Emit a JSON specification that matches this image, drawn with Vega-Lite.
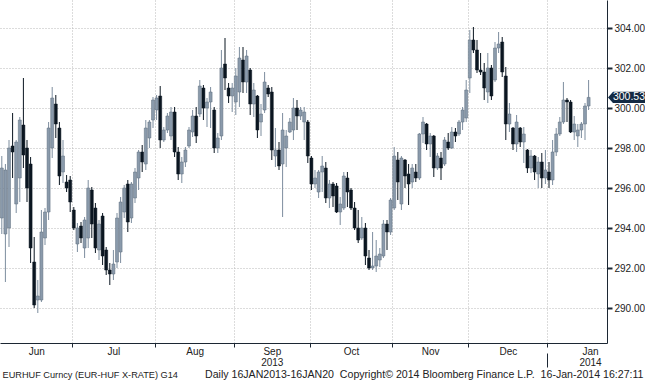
{
  "$schema": "https://vega.github.io/schema/vega-lite/v6.json",
  "width": 607,
  "height": 343,
  "autosize": {"type": "none"},
  "padding": {"left": 0, "top": 0, "right": 38, "bottom": 37},
  "background": "white",
  "config": {"view": {"stroke": null}},
  "data": {"values": [
    {"i":0,"o":294.5,"h":297.6,"l":293.7,"c":297.0},
    {"i":1,"o":293.7,"h":297.2,"l":291.3,"c":296.9},
    {"i":2,"o":294.0,"h":298.4,"l":293.05,"c":298.0},
    {"i":3,"o":298.1,"h":299.75,"l":296.5,"c":297.8},
    {"i":4,"o":295.2,"h":298.4,"l":294.75,"c":298.3},
    {"i":5,"o":296.5,"h":299.55,"l":295.3,"c":299.4},
    {"i":6,"o":299.15,"h":301.5,"l":297.0,"c":297.65},
    {"i":7,"o":298.0,"h":298.4,"l":295.3,"c":296.0},
    {"i":8,"o":297.2,"h":297.55,"l":292.25,"c":293.0},
    {"i":9,"o":292.3,"h":293.55,"l":290.0,"c":290.15},
    {"i":10,"o":290.4,"h":291.4,"l":289.75,"c":290.6},
    {"i":11,"o":290.4,"h":294.9,"l":290.3,"c":293.8},
    {"i":12,"o":293.5,"h":295.0,"l":293.15,"c":294.8},
    {"i":13,"o":294.8,"h":299.3,"l":294.4,"c":299.0},
    {"i":14,"o":298.0,"h":301.05,"l":297.5,"c":300.5},
    {"i":15,"o":300.2,"h":300.65,"l":298.5,"c":299.2},
    {"i":16,"o":299.0,"h":299.3,"l":296.15,"c":296.6},
    {"i":17,"o":296.8,"h":298.4,"l":296.25,"c":297.6},
    {"i":18,"o":296.3,"h":296.65,"l":295.8,"c":296.0},
    {"i":19,"o":296.4,"h":296.6,"l":294.8,"c":295.3},
    {"i":20,"o":294.9,"h":295.05,"l":293.9,"c":294.0},
    {"i":21,"o":293.2,"h":294.25,"l":292.8,"c":294.0},
    {"i":22,"o":294.1,"h":294.3,"l":293.25,"c":293.5},
    {"i":23,"o":293.0,"h":294.55,"l":292.5,"c":294.4},
    {"i":24,"o":293.5,"h":296.4,"l":293.0,"c":296.0},
    {"i":25,"o":295.9,"h":296.05,"l":293.5,"c":294.2},
    {"i":26,"o":295.0,"h":295.25,"l":292.75,"c":293.0},
    {"i":27,"o":292.9,"h":294.4,"l":292.4,"c":294.2},
    {"i":28,"o":294.6,"h":294.75,"l":292.15,"c":292.6},
    {"i":29,"o":292.9,"h":293.05,"l":291.65,"c":291.9},
    {"i":30,"o":291.9,"h":292.25,"l":291.15,"c":291.7},
    {"i":31,"o":291.7,"h":292.9,"l":291.4,"c":292.2},
    {"i":32,"o":292.3,"h":294.75,"l":292.0,"c":294.5},
    {"i":33,"o":292.8,"h":295.55,"l":292.25,"c":295.3},
    {"i":34,"o":294.8,"h":296.15,"l":294.5,"c":296.0},
    {"i":35,"o":296.2,"h":296.4,"l":293.8,"c":294.3},
    {"i":36,"o":294.5,"h":296.3,"l":294.25,"c":296.2},
    {"i":37,"o":295.5,"h":297.0,"l":295.25,"c":296.8},
    {"i":38,"o":296.5,"h":297.9,"l":295.9,"c":297.8},
    {"i":39,"o":297.8,"h":298.15,"l":296.8,"c":297.3},
    {"i":40,"o":297.2,"h":299.4,"l":296.9,"c":299.0},
    {"i":41,"o":298.5,"h":299.4,"l":298.0,"c":299.3},
    {"i":42,"o":299.4,"h":300.55,"l":299.0,"c":300.4},
    {"i":43,"o":299.9,"h":300.65,"l":299.4,"c":300.5},
    {"i":44,"o":300.6,"h":301.1,"l":298.0,"c":298.4},
    {"i":45,"o":298.4,"h":299.05,"l":298.3,"c":298.9},
    {"i":46,"o":298.9,"h":299.75,"l":298.75,"c":299.6},
    {"i":47,"o":298.6,"h":300.05,"l":298.4,"c":299.8},
    {"i":48,"o":299.8,"h":300.05,"l":297.55,"c":297.8},
    {"i":49,"o":297.8,"h":298.05,"l":296.4,"c":296.7},
    {"i":50,"o":296.7,"h":297.55,"l":296.25,"c":297.3},
    {"i":51,"o":297.3,"h":298.05,"l":297.05,"c":297.9},
    {"i":52,"o":298.1,"h":299.05,"l":298.0,"c":298.9},
    {"i":53,"o":298.8,"h":299.9,"l":298.55,"c":299.6},
    {"i":54,"o":299.6,"h":300.05,"l":298.25,"c":298.6},
    {"i":55,"o":299.7,"h":301.4,"l":299.55,"c":301.1},
    {"i":56,"o":301.0,"h":301.15,"l":299.4,"c":300.0},
    {"i":57,"o":300.0,"h":300.5,"l":299.05,"c":300.3},
    {"i":58,"o":300.3,"h":301.05,"l":299.0,"c":300.8},
    {"i":59,"o":299.9,"h":300.05,"l":297.75,"c":298.0},
    {"i":60,"o":298.0,"h":298.75,"l":297.75,"c":298.5},
    {"i":61,"o":298.6,"h":302.9,"l":298.4,"c":302.0},
    {"i":62,"o":302.2,"h":303.5,"l":300.9,"c":301.5},
    {"i":63,"o":301.0,"h":301.25,"l":300.25,"c":300.6},
    {"i":64,"o":300.6,"h":301.25,"l":299.8,"c":301.0},
    {"i":65,"o":300.3,"h":302.0,"l":299.65,"c":301.6},
    {"i":66,"o":300.8,"h":303.05,"l":300.05,"c":302.5},
    {"i":67,"o":302.4,"h":303.05,"l":300.75,"c":301.3},
    {"i":68,"o":301.3,"h":302.9,"l":300.75,"c":302.6},
    {"i":69,"o":301.9,"h":302.0,"l":299.65,"c":300.2},
    {"i":70,"o":300.2,"h":301.25,"l":299.55,"c":300.9},
    {"i":71,"o":300.6,"h":300.65,"l":298.5,"c":298.9},
    {"i":72,"o":299.3,"h":300.2,"l":298.6,"c":299.7},
    {"i":73,"o":299.9,"h":301.8,"l":299.75,"c":301.3},
    {"i":74,"o":301.0,"h":301.15,"l":300.55,"c":300.7},
    {"i":75,"o":300.8,"h":301.05,"l":297.4,"c":297.9},
    {"i":76,"o":297.6,"h":299.0,"l":297.05,"c":297.9},
    {"i":77,"o":297.9,"h":298.3,"l":296.9,"c":297.1},
    {"i":78,"o":297.2,"h":299.75,"l":294.55,"c":298.9},
    {"i":79,"o":298.0,"h":298.9,"l":297.05,"c":298.6},
    {"i":80,"o":298.8,"h":299.5,"l":298.75,"c":299.3},
    {"i":81,"o":298.9,"h":300.5,"l":298.4,"c":300.0},
    {"i":82,"o":300.0,"h":300.4,"l":298.9,"c":299.6},
    {"i":83,"o":299.6,"h":300.05,"l":299.4,"c":299.9},
    {"i":84,"o":299.3,"h":300.05,"l":298.4,"c":299.8},
    {"i":85,"o":299.3,"h":299.4,"l":297.25,"c":297.6},
    {"i":86,"o":297.5,"h":297.6,"l":295.9,"c":296.2},
    {"i":87,"o":296.2,"h":296.9,"l":296.0,"c":296.5},
    {"i":88,"o":295.8,"h":296.9,"l":295.5,"c":296.8},
    {"i":89,"o":296.8,"h":297.6,"l":295.8,"c":297.1},
    {"i":90,"o":297.0,"h":297.3,"l":295.25,"c":295.5},
    {"i":91,"o":295.5,"h":296.4,"l":295.0,"c":296.2},
    {"i":92,"o":296.2,"h":296.3,"l":295.05,"c":295.6},
    {"i":93,"o":296.1,"h":296.25,"l":294.75,"c":294.8},
    {"i":94,"o":294.8,"h":295.55,"l":294.15,"c":295.2},
    {"i":95,"o":295.0,"h":296.8,"l":294.9,"c":296.6},
    {"i":96,"o":296.5,"h":296.8,"l":295.05,"c":295.8},
    {"i":97,"o":295.9,"h":296.0,"l":294.9,"c":295.0},
    {"i":98,"o":295.0,"h":295.3,"l":293.9,"c":294.0},
    {"i":99,"o":294.0,"h":294.9,"l":293.25,"c":293.4},
    {"i":100,"o":293.5,"h":294.55,"l":293.4,"c":294.0},
    {"i":101,"o":294.0,"h":294.25,"l":292.15,"c":292.6},
    {"i":102,"o":292.5,"h":292.9,"l":291.9,"c":292.0},
    {"i":103,"o":292.0,"h":293.8,"l":291.9,"c":292.1},
    {"i":104,"o":292.1,"h":293.4,"l":291.8,"c":292.6},
    {"i":105,"o":292.4,"h":293.0,"l":292.05,"c":292.7},
    {"i":106,"o":292.6,"h":294.4,"l":292.5,"c":294.2},
    {"i":107,"o":294.2,"h":294.4,"l":292.9,"c":293.8},
    {"i":108,"o":293.8,"h":295.5,"l":293.65,"c":295.4},
    {"i":109,"o":295.0,"h":298.05,"l":294.9,"c":297.6},
    {"i":110,"o":297.4,"h":297.8,"l":295.4,"c":296.3},
    {"i":111,"o":295.2,"h":297.6,"l":294.9,"c":297.5},
    {"i":112,"o":297.4,"h":297.45,"l":296.0,"c":296.6},
    {"i":113,"o":296.7,"h":297.2,"l":295.15,"c":296.2},
    {"i":114,"o":296.3,"h":297.2,"l":296.0,"c":297.0},
    {"i":115,"o":296.8,"h":297.2,"l":296.3,"c":296.5},
    {"i":116,"o":296.5,"h":298.75,"l":296.4,"c":298.7},
    {"i":117,"o":298.7,"h":299.55,"l":298.25,"c":299.3},
    {"i":118,"o":299.2,"h":299.25,"l":297.9,"c":298.2},
    {"i":119,"o":298.2,"h":298.75,"l":297.55,"c":298.6},
    {"i":120,"o":298.6,"h":298.65,"l":296.55,"c":297.0},
    {"i":121,"o":297.0,"h":297.75,"l":296.9,"c":297.6},
    {"i":122,"o":297.5,"h":297.8,"l":296.4,"c":297.0},
    {"i":123,"o":297.2,"h":298.55,"l":297.1,"c":298.4},
    {"i":124,"o":298.3,"h":298.75,"l":297.9,"c":298.0},
    {"i":125,"o":298.0,"h":299.05,"l":297.95,"c":298.8},
    {"i":126,"o":298.8,"h":299.0,"l":298.3,"c":298.6},
    {"i":127,"o":298.7,"h":299.4,"l":298.6,"c":299.3},
    {"i":128,"o":299.3,"h":300.05,"l":298.9,"c":299.9},
    {"i":129,"o":299.5,"h":301.4,"l":299.3,"c":300.9},
    {"i":130,"o":301.5,"h":303.9,"l":300.75,"c":303.4},
    {"i":131,"o":303.4,"h":304.05,"l":302.75,"c":302.9},
    {"i":132,"o":302.9,"h":303.4,"l":301.75,"c":301.9},
    {"i":133,"o":301.9,"h":302.75,"l":301.65,"c":301.8},
    {"i":134,"o":301.8,"h":302.25,"l":300.4,"c":301.0},
    {"i":135,"o":300.8,"h":302.75,"l":300.25,"c":302.0},
    {"i":136,"o":302.0,"h":302.15,"l":300.4,"c":300.6},
    {"i":137,"o":301.4,"h":303.3,"l":301.3,"c":303.0},
    {"i":138,"o":303.0,"h":303.8,"l":302.75,"c":303.2},
    {"i":139,"o":303.3,"h":303.55,"l":301.55,"c":301.8},
    {"i":140,"o":301.6,"h":302.05,"l":298.4,"c":299.2},
    {"i":141,"o":299.2,"h":300.25,"l":298.8,"c":299.7},
    {"i":142,"o":299.0,"h":299.05,"l":297.9,"c":298.2},
    {"i":143,"o":298.2,"h":299.65,"l":297.8,"c":299.3},
    {"i":144,"o":299.0,"h":299.05,"l":298.05,"c":298.3},
    {"i":145,"o":298.3,"h":299.05,"l":297.25,"c":298.7},
    {"i":146,"o":297.9,"h":297.95,"l":296.75,"c":297.0},
    {"i":147,"o":297.0,"h":297.9,"l":296.75,"c":297.6},
    {"i":148,"o":297.6,"h":297.65,"l":296.4,"c":296.8},
    {"i":149,"o":296.7,"h":297.55,"l":296.0,"c":297.3},
    {"i":150,"o":297.3,"h":297.75,"l":296.0,"c":296.5},
    {"i":151,"o":296.5,"h":297.9,"l":296.2,"c":296.9},
    {"i":152,"o":296.8,"h":297.3,"l":296.0,"c":296.4},
    {"i":153,"o":296.4,"h":298.4,"l":296.15,"c":297.8},
    {"i":154,"o":297.8,"h":299.0,"l":297.6,"c":298.7},
    {"i":155,"o":298.7,"h":299.55,"l":298.6,"c":299.3},
    {"i":156,"o":299.3,"h":301.3,"l":299.2,"c":300.4},
    {"i":157,"o":300.4,"h":300.5,"l":299.3,"c":300.3},
    {"i":158,"o":300.3,"h":300.4,"l":298.75,"c":298.8},
    {"i":159,"o":298.8,"h":299.6,"l":298.4,"c":299.2},
    {"i":160,"o":298.6,"h":299.2,"l":298.05,"c":298.9},
    {"i":161,"o":298.9,"h":299.3,"l":298.5,"c":299.2},
    {"i":162,"o":299.2,"h":300.25,"l":298.4,"c":300.1},
    {"i":163,"o":300.1,"h":301.4,"l":299.9,"c":300.53}
  ]},
  "encoding": {
    "x": {
      "field": "i", "type": "quantitative",
      "scale": {"domain": [-0.5, 168.11], "nice": false, "zero": false, "padding": 0},
      "axis": {
        "values": [9.6, 19.5, 31, 42.5, 53.6, 64.5, 75, 85.5, 97, 108.5, 119, 129.5, 140.6, 151.5, 163.4],
        "labelExpr": "datum.value == 9.6 ? 'Jun' : datum.value == 31 ? 'Jul' : datum.value == 53.6 ? 'Aug' : datum.value == 75 ? ['Sep','2013'] : datum.value == 97 ? 'Oct' : datum.value == 119 ? 'Nov' : datum.value == 140.6 ? 'Dec' : datum.value == 163.4 ? ['Jan','2014'] : ''",
        "labelAngle": 0,
        "labelAlign": "center",
        "labelBaseline": "top",
        "labelPadding": -21,
        "labelLineHeight": 11,
        "labelFont": "Liberation Sans",
        "labelFontSize": 10,
        "labelColor": "#222222",
        "labelOverlap": false,
        "labelFlush": false,
        "grid": true,
        "gridColor": "#b8b8b8",
        "gridDash": [1, 2],
        "gridOpacity": {"condition": {"test": "datum.value % 1 == 0.5", "value": 1}, "value": 0},
        "tickOpacity": {"condition": {"test": "datum.value % 1 == 0.5", "value": 1}, "value": 0},
        "tickSize": 24,
        "tickDash": {"condition": {"test": "datum.value == 151.5", "value": [4, 6, 14, 40]}, "value": [4, 40]},
        "tickColor": "#1c2733",
        "domainColor": "#1c2733",
        "title": "Daily 16JAN2013-16JAN20\u00a0\u00a0Copyright\u00a9 2014 Bloomberg Finance L.P.\u00a0\u00a016-Jan-2014 16:27:11",
        "titleX": 643,
        "titleY": 34,
        "titleAlign": "right",
        "titleAnchor": "end",
        "titleBaseline": "alphabetic",
        "titleFont": "Liberation Sans",
        "titleFontSize": 10.6,
        "titleFontWeight": "normal",
        "titleColor": "#222222"
      }
    }
  },
  "layer": [
    {
      "mark": {"type": "rule", "strokeWidth": 1},
      "encoding": {
        "y": {
          "field": "l", "type": "quantitative",
          "scale": {"domain": [288.25, 305.4], "nice": false, "zero": false},
          "axis": {
            "orient": "right",
            "values": [290, 292, 294, 296, 298, 300, 302, 304],
            "format": ".2f",
            "labelFont": "Liberation Sans",
            "labelFontSize": 10,
            "labelColor": "#222222",
            "labelPadding": 2,
            "labelOverlap": false,
            "grid": true,
            "gridColor": "#b8b8b8",
            "gridDash": [1, 2],
            "tickSize": 5,
            "tickWidth": 2,
            "tickColor": "#1c2733",
            "domainColor": "#1c2733",
            "title": "EURHUF Curncy (EUR-HUF X-RATE) G14",
            "titleAngle": 0,
            "titleX": -605,
            "titleY": 377,
            "titleAlign": "left",
            "titleBaseline": "alphabetic",
            "titleFont": "Liberation Sans",
            "titleFontSize": 9.2,
            "titleFontWeight": "normal",
            "titleColor": "#222222"
          }
        },
        "y2": {"field": "h"},
        "color": {"condition": {"test": "datum.c >= datum.o", "value": "#7d8d9e"}, "value": "#0b1621"}
      }
    },
    {
      "mark": {"type": "bar", "size": 3, "strokeWidth": 0.5},
      "encoding": {
        "y": {"field": "o", "type": "quantitative"},
        "y2": {"field": "c"},
        "color": {"condition": {"test": "datum.c >= datum.o", "value": "#8a9aab"}, "value": "#0b1621"},
        "stroke": {"condition": {"test": "datum.c >= datum.o", "value": "#5c6c7d"}, "value": "#0b1621"}
      }
    },
    {
      "transform": [{"filter": "datum.i == 163"}],
      "mark": {"type": "point", "shape": "M0.05,0L0.3,-0.28L1.95,-0.28L1.95,0.28L0.3,0.28Z", "size": 1600, "filled": true, "opacity": 1, "strokeWidth": 0},
      "encoding": {
        "x": {"datum": 168.11, "type": "quantitative"},
        "y": {"field": "c", "type": "quantitative"},
        "color": {"value": "#132a44"}
      }
    },
    {
      "transform": [{"filter": "datum.i == 163"}],
      "mark": {"type": "text", "dx": 22, "align": "center", "baseline": "middle", "font": "Liberation Sans", "fontSize": 10.5, "color": "white"},
      "encoding": {
        "x": {"datum": 168.11, "type": "quantitative"},
        "y": {"field": "c", "type": "quantitative"},
        "text": {"field": "c", "type": "quantitative", "format": ".2f"}
      }
    }
  ]
}
